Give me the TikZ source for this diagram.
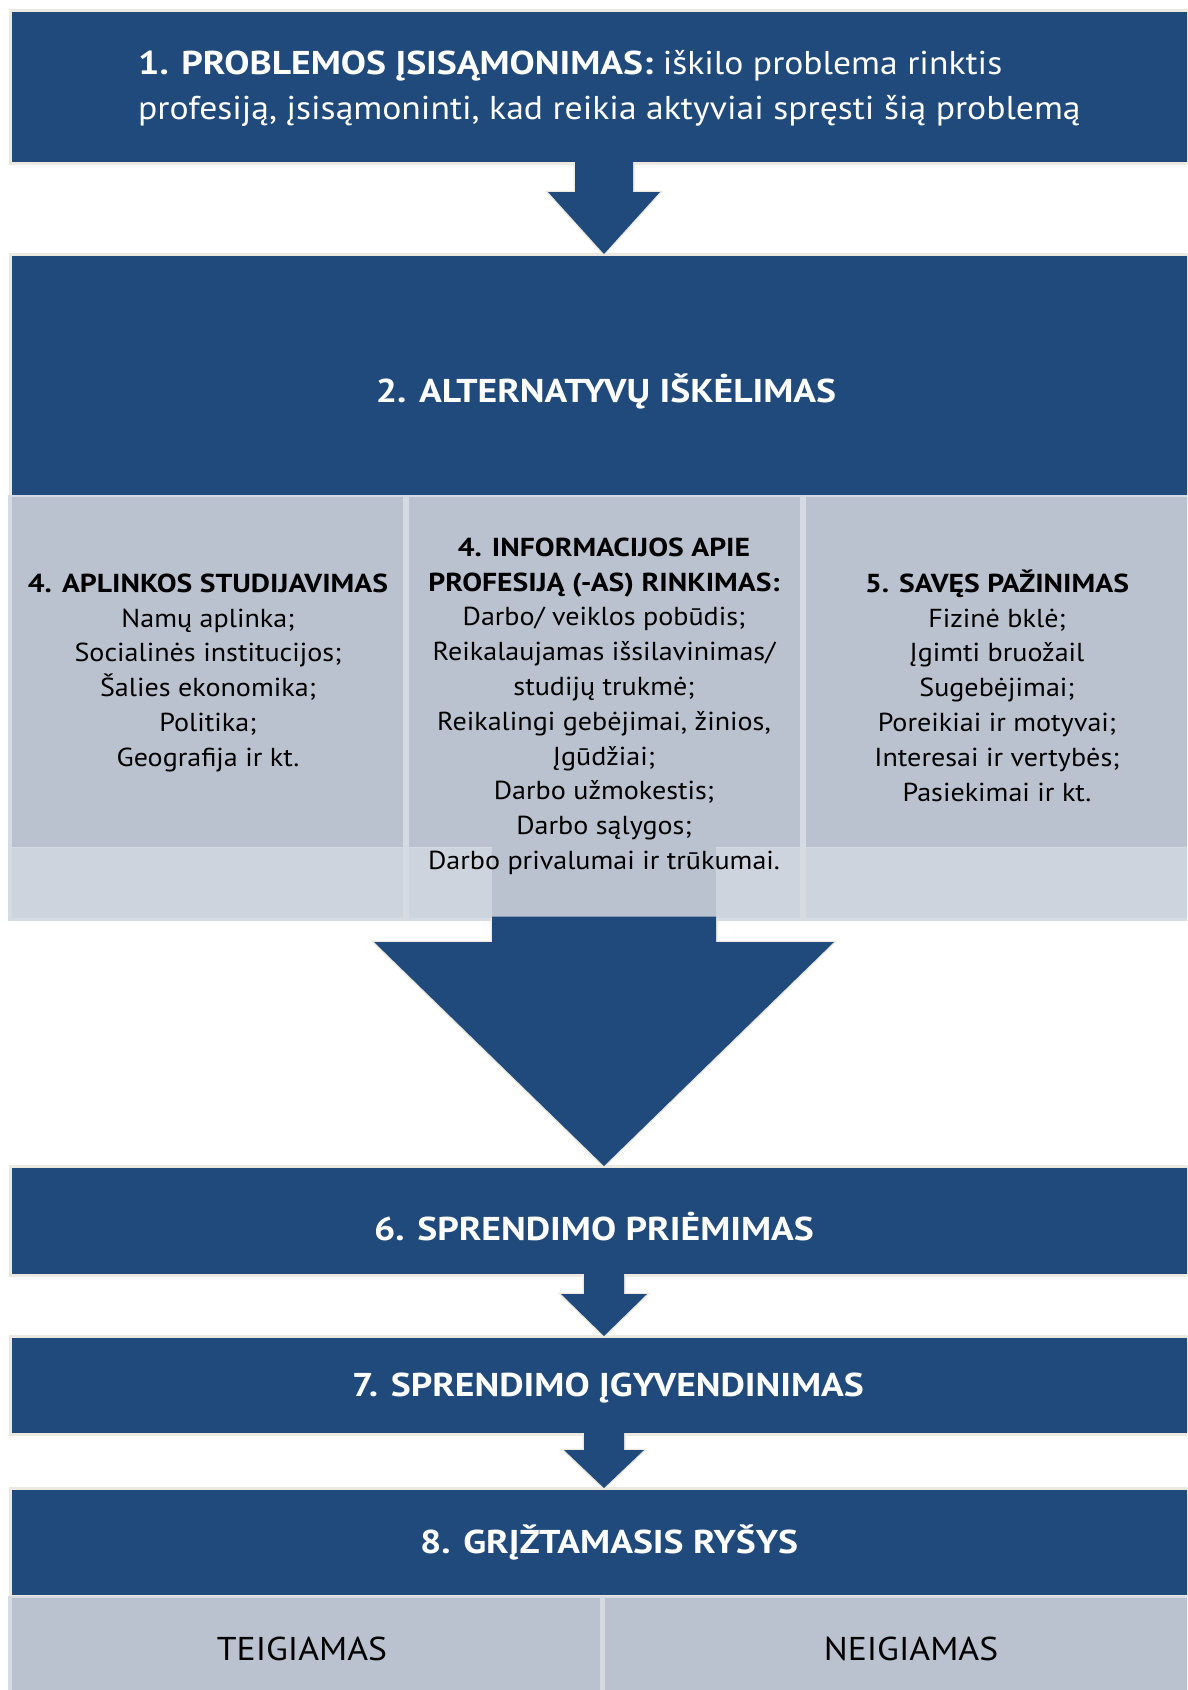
\documentclass[tikz,border=0pt]{standalone}
\usepackage{fontspec}
\setmainfont{PT Sans}[FakeStretch=1.08, BoldFeatures={FakeStretch=1.14}]
\usetikzlibrary{calc}
\definecolor{navy}{HTML}{204A7C}
\definecolor{cream}{HTML}{ECEAE0}
\definecolor{panel}{HTML}{BAC2CF}
\definecolor{strip}{HTML}{CED4DD}
\definecolor{frame}{HTML}{D6DAE2}
\newcommand\blockarrow[5]{%
  \path let \p1=(#1.south -| cx), \p2=(#2.north -| cx) in
    [draw=cream, line width=3pt, line join=miter]
      (\x1-#3,\y1) -- (\x1-#3,\y1-#5) -- (\x1-#4,\y1-#5) -- (\x2,\y2)
      -- (\x1+#4,\y1-#5) -- (\x1+#3,\y1-#5) -- (\x1+#3,\y1);
  \path let \p1=(#1.south -| cx), \p2=(#2.north -| cx) in
    [fill=navy]
      (\x1-#3,\y1+1.5pt) -- (\x1-#3,\y1-#5) -- (\x1-#4,\y1-#5) -- (\x2,\y2)
      -- (\x1+#4,\y1-#5) -- (\x1+#3,\y1-#5) -- (\x1+#3,\y1+1.5pt) -- cycle;
}
\begin{document}
\begin{tikzpicture}[x=1pt,y=-1pt,
  bbox/.style={fill=navy, draw=cream, line width=3pt, anchor=north west, inner sep=0, outer sep=0, minimum width=1200pt},
  pbox/.style={fill=panel, anchor=north west, inner sep=0, outer sep=0, draw=none},
  sbox/.style={fill=strip, anchor=north west, inner sep=0, outer sep=0, draw=none, minimum height=70pt},
  head/.style={text=white, anchor=base, inner sep=0, font=\bfseries\fontsize{33}{40}\selectfont},
  plain/.style={text=black, anchor=base, inner sep=0, font=\fontsize{33}{40}\selectfont},
  ptext/.style={align=center, anchor=north, inner sep=0, text=black, font=\fontsize{26}{34.8}\selectfont},
]
\useasboundingbox (0,0) rectangle (1187,1690);
\clip (0,0) rectangle (1187,1690);
\fill[white] (0,0) rectangle (1187,1690);
\coordinate (cx) at (604,0);

% boxes
\node[bbox, minimum height=153pt] (b1) at (10,10) {};
\node[bbox, minimum height=242pt] (b2) at (10,254) {};
\fill[frame] (8,495) rectangle (1200,921);
\node[pbox, minimum width=391pt, minimum height=350pt] (p1) at (12,497) {};
\node[pbox, minimum width=391pt, minimum height=350pt] (p2) at (409,497) {};
\node[pbox, minimum width=400pt, minimum height=350pt] (p3) at (806,497) {};
\node[sbox, minimum width=391pt] (s1) at (12,848) {};
\node[sbox, minimum width=391pt] (s2) at (409,848) {};
\node[sbox, minimum width=400pt] (s3) at (806,848) {};
\node[bbox, minimum height=109pt] (b6) at (10,1166) {};
\node[bbox, minimum height=98pt] (b7) at (10,1336) {};
\node[bbox, minimum height=108pt] (b8) at (10,1488) {};
\fill[frame] (8,1596) rectangle (1200,1700);
\node[pbox, minimum width=588pt, minimum height=100pt] (q1) at (12,1598) {};
\node[pbox, minimum width=600pt, minimum height=100pt] (q2) at (605,1598) {};

% arrows
\blockarrow{b1}{b2}{29pt}{56pt}{29pt}
\fill[panel] (492,847) rectangle (716,918);
\blockarrow{s2}{b6}{112pt}{230pt}{24pt}
\blockarrow{b6}{b7}{20pt}{43pt}{19pt}
\blockarrow{b7}{b8}{20pt}{40pt}{16pt}

% texts
\node[anchor=north west, inner sep=0, align=left, text=white, font=\fontsize{33}{45}\selectfont] (t1) at (138,44.5)
  {\rule{0pt}{30pt}\textbf{1. PROBLEMOS ĮSISĄMONIMAS:} iškilo problema rinktis\\profesiją, įsisąmoninti, kad reikia aktyviai spręsti šią problemą};
\node[head] (t2) at (606,402.5) {2. ALTERNATYVŲ IŠKĖLIMAS};
\node[ptext] (t3) at (208,568) {\rule{0pt}{24pt}\textbf{4. APLINKOS STUDIJAVIMAS}\\Namų aplinka;\\Socialinės institucijos;\\Šalies ekonomika;\\Politika;\\Geografija ir kt.};
\node[ptext] (t4) at (604,532) {\rule{0pt}{24pt}\textbf{4. INFORMACIJOS APIE}\\\textbf{PROFESIJĄ (-AS) RINKIMAS:}\\Darbo/ veiklos pobūdis;\\Reikalaujamas išsilavinimas/\\studijų trukmė;\\Reikalingi gebėjimai, žinios,\\Įgūdžiai;\\Darbo užmokestis;\\Darbo sąlygos;\\Darbo privalumai ir trūkumai.};
\node[ptext] (t5) at (997,568) {\rule{0pt}{24pt}\textbf{5. SAVĘS PAŽINIMAS}\\Fizinė bklė;\\Įgimti bruožail\\Sugebėjimai;\\Poreikiai ir motyvai;\\Interesai ir vertybės;\\Pasiekimai ir kt.};
\node[head] (t6) at (594,1240.5) {6. SPRENDIMO PRIĖMIMAS};
\node[head] (t7) at (608,1396.5) {7. SPRENDIMO ĮGYVENDINIMAS};
\node[head] (t8) at (609,1553.5) {8. GRĮŽTAMASIS RYŠYS};
\node[plain] (t9) at (302,1660.5) {TEIGIAMAS};
\node[plain] (t10) at (911,1660.5) {NEIGIAMAS};
\end{tikzpicture}
\end{document}
